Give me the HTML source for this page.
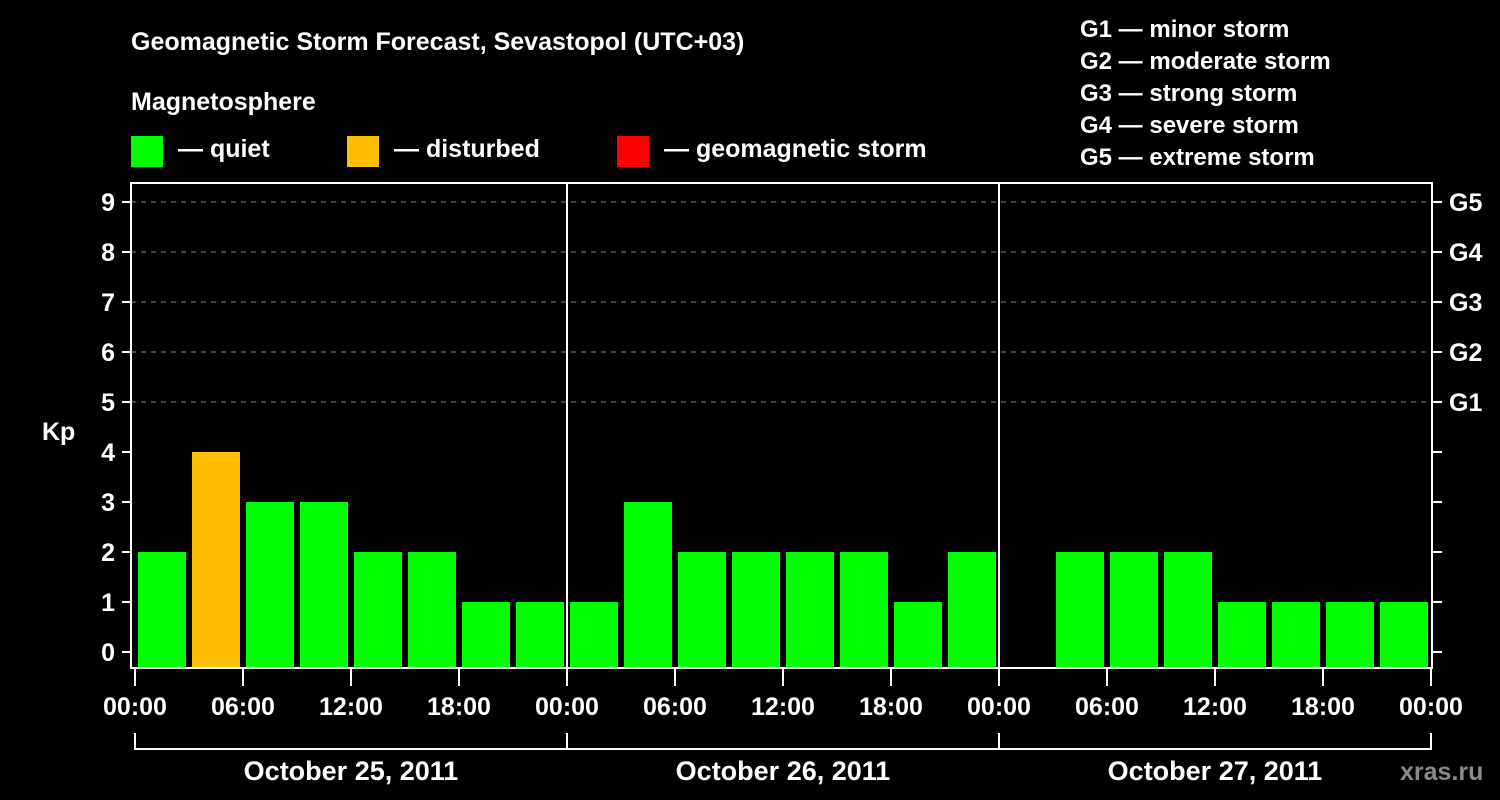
<!DOCTYPE html>
<html><head><meta charset="utf-8"><style>
body{margin:0;background:#000;width:1500px;height:800px;overflow:hidden}
svg{display:block}
text{font-family:"Liberation Sans",sans-serif;font-weight:bold;fill:#fff}
</style></head><body>
<svg id="chart" width="1500" height="800">
<text x="131" y="50" font-size="25">Geomagnetic Storm Forecast, Sevastopol (UTC+03)</text>
<text x="131" y="110" font-size="25">Magnetosphere</text>
<g><rect x="131" y="136" width="32" height="31" fill="#00ff00"/><text x="178" y="157" font-size="25">— quiet</text></g>
<g><rect x="347" y="136" width="32" height="31" fill="#ffbf00"/><text x="394" y="157" font-size="25">— disturbed</text></g>
<g><rect x="617" y="136" width="32" height="31" fill="#ff0000"/><text x="664" y="157" font-size="25">— geomagnetic storm</text></g>
<g font-size="24">
<text x="1080" y="37">G1 — minor storm</text>
<text x="1080" y="69">G2 — moderate storm</text>
<text x="1080" y="101">G3 — strong storm</text>
<text x="1080" y="133">G4 — severe storm</text>
<text x="1080" y="165">G5 — extreme storm</text>
</g>
<text x="42" y="440" font-size="25">Kp</text>
<text x="1400" y="780" font-size="25" fill="#888" style="fill:#8a8a8a">xras.ru</text>
<g id="plot"></g>
</svg>
<script>
const kpValues = [2,4,3,3,2,2,1,1, 1,3,2,2,2,2,1,2, null,2,2,2,1,1,1,1];
const dayLabels = ["October 25, 2011","October 26, 2011","October 27, 2011"];
const hourLabels = ["00:00","06:00","12:00","18:00"];
const kpTicks = [0,1,2,3,4,5,6,7,8,9];
const gLabels = ["G1","G2","G3","G4","G5"];

const NS="http://www.w3.org/2000/svg";
const g=document.getElementById('plot');
const X0=135, SLOT=54;
const xs=i=>X0+SLOT*i;            // slot index -> x
const ys=k=>652-50*k;             // kp -> y
const BOTTOM=668, TOP=183;
function el(t,a,p){const e=document.createElementNS(NS,t);for(const k in a)e.setAttribute(k,a[k]);(p||g).appendChild(e);return e;}

// gridlines
kpTicks.forEach(k=>{
  if(k>=5){const l=el('line',{x1:131,x2:1432,y1:ys(k),y2:ys(k),stroke:'#888','stroke-dasharray':'5,5','stroke-width':1});
  
  }
  const t1=el('line',{x1:122,x2:131,y1:ys(k),y2:ys(k),stroke:'#fff','stroke-width':2});
  
  
  const t2=el('line',{x1:1432,x2:1442,y1:ys(k),y2:ys(k),stroke:'#fff','stroke-width':2});
  
  
  const tx=el('text',{x:115,y:ys(k)+9,'font-size':25,'text-anchor':'end'});tx.textContent=k;
  
  
});
gLabels.forEach((s,i)=>{
  const tx=el('text',{x:1449,y:ys(5+i)+9,'font-size':25});tx.textContent=s;
  
  
});
// bars
kpValues.forEach((v,i)=>{
  if(v===null)return;
  const top=ys(v);
  const c=v>=5?'#ff0000':(v>=4?'#ffbf00':'#00ff00');
  const r=el('rect',{x:xs(i)+3,y:top,width:48,height:BOTTOM-top,fill:c});
  
  
});
// frame & day dividers
const fr=el('rect',{x:131,y:TOP,width:1301,height:BOTTOM-TOP,fill:'none',stroke:'#fff','stroke-width':2});


for(let d=1;d<3;d++){const l=el('line',{x1:xs(d*8),x2:xs(d*8),y1:TOP,y2:BOTTOM,stroke:'#fff','stroke-width':2});

}
// x ticks & labels
for(let i=0;i<=24;i+=2){
  const l=el('line',{x1:xs(i),x2:xs(i),y1:BOTTOM,y2:686,stroke:'#fff','stroke-width':2});
  
  
  const t=el('text',{x:xs(i),y:715,'font-size':25,'text-anchor':'middle'});t.textContent=hourLabels[(i/2)%4];
  
  
}
// day brackets
const br=el('path',{d:`M${xs(0)},733V749H${xs(24)}V733`,fill:'none',stroke:'#fff','stroke-width':2});


dayLabels.forEach((s,d)=>{
  if(d>0){const l=el('line',{x1:xs(d*8),x2:xs(d*8),y1:733,y2:749,stroke:'#fff','stroke-width':2});
  
  }
  const t=el('text',{x:xs(d*8+4),y:780,'font-size':27,'text-anchor':'middle'});t.textContent=s;
  
  
});
</script>
</body></html>
